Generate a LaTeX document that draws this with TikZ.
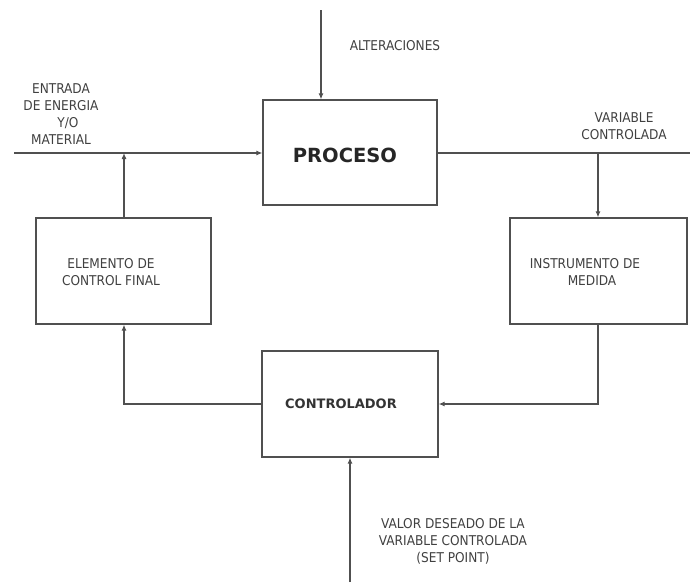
\documentclass[tikz,border=0pt]{standalone}
\usepackage{fontspec}
\setmainfont{DejaVu Sans}
\newfontfamily\condf{DejaVu Sans Condensed}
\usetikzlibrary{arrows.meta}
\definecolor{ln}{HTML}{505050}
\definecolor{tx}{HTML}{404040}
\begin{document}
\begin{tikzpicture}[x=1pt,y=-1pt,
  blk/.style={draw=ln,line width=1.3pt,minimum width=#1,inner sep=0pt},
  conn/.style={draw=ln,line width=1.1pt},
  arr/.style={conn,-{Latex[length=6pt,width=5pt]}},
  lbl/.style={text=tx,font=\condf\fontsize{13.5}{17}\selectfont,align=center,inner sep=0pt}]
\useasboundingbox (0,0) rectangle (690,582);
% blocks
\node[blk=174pt,minimum height=105pt] (proc) at (350,152.5) {};
\node[font=\fontsize{19.5}{22}\selectfont\bfseries,text=black!85] at (345,155) {PROCESO};
\node[blk=175pt,minimum height=106pt] (elem) at (123.5,271) {};
\node[lbl] at (111,272) {ELEMENTO DE\\CONTROL FINAL};
\node[blk=177pt,minimum height=106pt] (inst) at (598.5,271) {};
\node[lbl] at (585,272) {INSTRUMENTO DE\\\hspace*{14pt}MEDIDA};
\node[blk=176pt,minimum height=106pt] (ctrl) at (350,404) {};
\node[font=\fontsize{13}{15}\selectfont\bfseries,text=black!80] at (341,404) {CONTROLADOR};
% coordinates
\coordinate (alt) at (321,10);
\coordinate (inL) at (14,153);
\coordinate (outR) at (690,153);
\coordinate (sp) at (350,582);
\coordinate (j1) at (124,153);
\coordinate (j2) at (598,153);
% connectors
\draw[arr] (alt) -- (alt |- proc.north);
\draw[arr] (inL) -- (proc.west |- inL);
\draw[arr] (elem.north -| j1) -- (j1);
\draw[conn] (proc.east |- outR) -- (outR);
\draw[arr] (j2) -- (inst.north -| j2);
\draw[arr] (inst.south -| j2) |- (ctrl.east);
\draw[arr] (ctrl.west) -| (elem.south -| j1);
\draw[arr] (sp) -- (sp |- ctrl.south);
% labels
\node[lbl] at (395,46) {ALTERACIONES};
\node[lbl] at (61,114) {ENTRADA\\DE ENERGIA\\\hspace*{14pt}Y/O\\MATERIAL};
\node[lbl] at (624,126) {VARIABLE\\CONTROLADA};
\node[lbl] at (453,541) {VALOR DESEADO DE LA\\VARIABLE CONTROLADA\\(SET POINT)};
\end{tikzpicture}
\end{document}
